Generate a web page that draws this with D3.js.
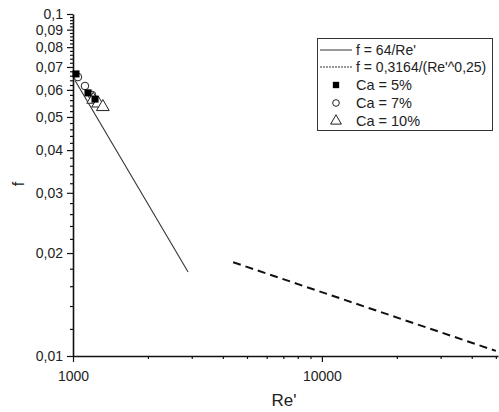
<!DOCTYPE html>
<html><head><meta charset="utf-8">
<script src="https://cdn.jsdelivr.net/npm/d3@7"></script>
<style>body{margin:0;background:#fff}svg{display:block}text{font-family:"Liberation Sans",Arial,sans-serif;fill:#222}</style>
</head><body>
<script>
const xMajor = [1000, 10000];
const xMinor = [2000,3000,4000,5000,6000,7000,8000,9000,20000,30000,40000,50000];
const yMajor = [0.01,0.02,0.03,0.04,0.05,0.06,0.07,0.08,0.09,0.1];
const yMajorLabels = ["0,01","0,02","0,03","0,04","0,05","0,06","0,07","0,08","0,09","0,1"];
const laminarRe = [1018, 2900];
const laminarF = [0.064, 0.0176];
const turbRe = [4400, 50000];
const turbF = [0.0188, 0.01035];
const ca5Re = [1028, 1149, 1226];
const ca5F = [0.0668, 0.0588, 0.0564];
const ca7Re = [1047, 1117, 1192];
const ca7F = [0.0654, 0.0616, 0.058];
const ca10Re = [1205, 1262, 1318];
const ca10F = [0.0562, 0.0548, 0.0535];
const legendLabels = ["f = 64/Re'", "f = 0,3164/(Re'^0,25)", "Ca = 5%", "Ca = 7%", "Ca = 10%"];

const W=499,H=412;
const svg=d3.select("body").append("svg").attr("width",W).attr("height",H);
const x=d3.scaleLog().domain([1000,51000]).range([73,498]);
const y=d3.scaleLog().domain([0.01,0.1]).range([356,14]);

const yMinorE=d3.range(6,50).map(i=>i*0.002).filter(v=>v>0.0101&&v<0.0999&&Math.abs(v*100-Math.round(v*100))>1e-6);

const xAxis=svg.append("g").attr("transform","translate(0,356)")
 .call(d3.axisBottom(x).tickValues(xMajor).tickFormat(d3.format("d")).tickSize(6).tickSizeOuter(0));
svg.append("g").attr("transform","translate(0,356)")
 .call(d3.axisBottom(x).tickValues(xMinor).tickFormat("").tickSize(3).tickSizeOuter(0)).select(".domain").remove();
const yAxis=svg.append("g").attr("transform","translate(73,0)")
 .call(d3.axisLeft(y).tickValues(yMajor).tickFormat((d,i)=>yMajorLabels[i]).tickSize(6).tickSizeOuter(0));
svg.append("g").attr("transform","translate(73,0)")
 .call(d3.axisLeft(y).tickValues(yMinorE).tickFormat("").tickSize(3).tickSizeOuter(0)).select(".domain").remove();
svg.selectAll(".domain").attr("stroke","#111").attr("stroke-width",1.6);
svg.selectAll(".tick line").attr("stroke","#111").attr("stroke-width",1.2);
svg.selectAll(".tick text").attr("font-size",14).attr("fill","#222").style("font-family","'Liberation Sans',Arial,sans-serif");
xAxis.selectAll(".tick text").attr("dy","1.15em");
yAxis.selectAll(".tick text").attr("dx","-1px");

svg.append("text").attr("x",284).attr("y",406).attr("text-anchor","middle").attr("font-size",17).text("Re'");
svg.append("text").attr("transform","translate(24,184) rotate(-90)").attr("text-anchor","middle").attr("font-size",16).text("f");

const line=d3.line().x(d=>x(d[0])).y(d=>y(d[1]));
svg.append("path").datum(d3.zip(laminarRe,laminarF)).attr("d",line).attr("fill","none").attr("stroke","#333").attr("stroke-width",1.1);
svg.append("path").datum(d3.zip(turbRe,turbF)).attr("d",line).attr("fill","none").attr("stroke","#111").attr("stroke-width",2).attr("stroke-dasharray","8,5");

const sym=(t,s)=>d3.symbol().type(t).size(s)();
svg.selectAll(".c7").data(d3.zip(ca7Re,ca7F)).join("path").attr("transform",d=>`translate(${x(d[0])},${y(d[1])})`)
 .attr("d",sym(d3.symbolCircle,45)).attr("fill","#fff").attr("stroke","#222").attr("stroke-width",1);
svg.selectAll(".c10").data(d3.zip(ca10Re,ca10F)).join("path").attr("transform",d=>`translate(${x(d[0])},${y(d[1])})`)
 .attr("d",sym(d3.symbolTriangle,70)).attr("fill","#fff").attr("stroke","#222").attr("stroke-width",1);
svg.selectAll(".c5").data(d3.zip(ca5Re,ca5F)).join("path").attr("transform",d=>`translate(${x(d[0])},${y(d[1])})`)
 .attr("d",sym(d3.symbolSquare,50)).attr("fill","#000");

// legend
const lg=svg.append("g");
lg.append("rect").attr("x",317.5).attr("y",38.5).attr("width",175).attr("height",92).attr("fill","#fff").attr("stroke","#333").attr("stroke-width",1);
const ly=[50,67,85,103,121];
lg.append("line").attr("x1",320).attr("x2",352).attr("y1",ly[0]).attr("y2",ly[0]).attr("stroke","#333").attr("stroke-width",1);
lg.append("line").attr("x1",320).attr("x2",352).attr("y1",ly[1]).attr("y2",ly[1]).attr("stroke","#333").attr("stroke-width",1).attr("stroke-dasharray","2,1");
lg.append("path").attr("transform",`translate(336,${ly[2]})`).attr("d",sym(d3.symbolSquare,40)).attr("fill","#000");
lg.append("path").attr("transform",`translate(336,${ly[3]})`).attr("d",sym(d3.symbolCircle,35)).attr("fill","#fff").attr("stroke","#222");
lg.append("path").attr("transform",`translate(336,${ly[4]})`).attr("d",sym(d3.symbolTriangle,50)).attr("fill","#fff").attr("stroke","#222");
legendLabels.forEach((t,i)=>lg.append("text").attr("x",356).attr("y",ly[i]).attr("dy","0.35em").attr("font-size",i<2?14:14.5).text(t));
</script>
</body></html>
